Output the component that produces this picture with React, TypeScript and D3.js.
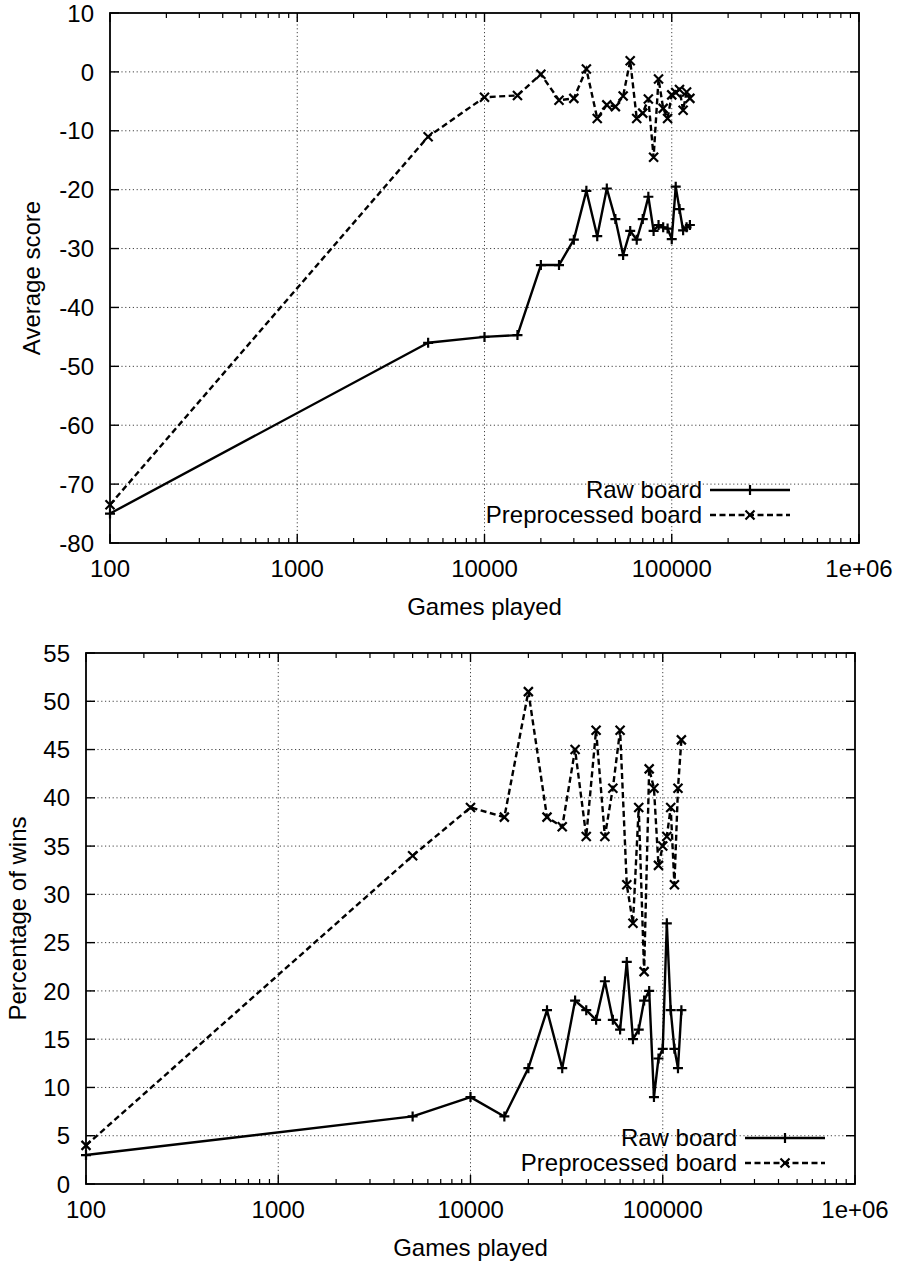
import * as d3 from 'd3'

// x values shared by every series
const gamesPlayed = [
  100, 5000, 10000, 15000, 20000, 25000, 30000, 35000, 40000, 45000, 50000, 55000, 60000,
  65000, 70000, 75000, 80000, 85000, 90000, 95000, 100000, 105000, 110000, 115000, 120000, 125000,
]

const scoreRaw = [
  -75, -46, -45, -44.7, -32.8, -32.8, -28.5, -20.2, -27.9, -19.8, -25, -31.1, -27,
  -28.5, -25, -21.2, -27, -26, -26.4, -26.6, -28.4, -19.5, -23.3, -26.9, -26.4, -26,
]
const scorePre = [
  -73.5, -11, -4.3, -4.0, -0.4, -4.8, -4.5, 0.5, -7.9, -5.6, -5.9, -4.1, 1.9,
  -7.9, -7, -4.6, -14.5, -1.2, -6.2, -7.9, -3.9, -3.5, -3, -6.5, -3.4, -4.5,
]

const winsRaw = [
  3, 7, 9, 7, 12, 18, 12, 19, 18, 17, 21, 17, 16,
  23, 15, 16, 19, 20, 9, 13, 14, 27, 18, 14, 12, 18,
]
const winsPre = [
  4, 34, 39, 38, 51, 38, 37, 45, 36, 47, 36, 41, 47,
  31, 27, 39, 22, 43, 41, 33, 35, 36, 39, 31, 41, 46,
]

const xTicks = [100, 1000, 10000, 100000, 1000000]
const xTickLabels = ['100', '1000', '10000', '100000', '1e+06']
const scoreTicks = [10, 0, -10, -20, -30, -40, -50, -60, -70, -80]
const winsTicks = [55, 50, 45, 40, 35, 30, 25, 20, 15, 10, 5, 0]
const seriesNames = ['Raw board', 'Preprocessed board']

const FONT = 'Liberation Sans, Arial, Helvetica, sans-serif'
const FS = 24

interface PanelProps {
  box: { left: number; right: number; top: number; bottom: number }
  yDomain: [number, number]
  yTicks: number[]
  raw: number[]
  pre: number[]
  ylabel: string
  ylabelX: number
  legendRight: number
  legendBase: number
}

function Panel({ box, yDomain, yTicks, raw, pre, ylabel, ylabelX, legendRight, legendBase }: PanelProps) {
  const x = d3.scaleLog().domain([100, 1000000]).range([box.left, box.right])
  const y = d3.scaleLinear().domain(yDomain).range([box.bottom, box.top])

  // minor log ticks 2..9 in each decade
  const minor: number[] = []
  for (let dec = 100; dec < 1000000; dec *= 10) {
    for (let m = 2; m <= 9; m++) minor.push(dec * m)
  }

  const line = d3
    .line<number>()
    .x((_, i) => x(gamesPlayed[i]))
    .y((d) => y(d))

  const plus = (cx: number, cy: number, k: string) => (
    <path key={k} d={`M${cx - 5},${cy}H${cx + 5}M${cx},${cy - 5}V${cy + 5}`} stroke="#000" strokeWidth={2.2} />
  )
  const cross = (cx: number, cy: number, k: string) => (
    <path
      key={k}
      d={`M${cx - 4.5},${cy - 4.5}L${cx + 4.5},${cy + 4.5}M${cx - 4.5},${cy + 4.5}L${cx + 4.5},${cy - 4.5}`}
      stroke="#000"
      strokeWidth={2.2}
    />
  )

  const sampleEnd = legendRight
  const sampleStart = legendRight - 80
  const textEnd = sampleStart - 8

  return (
    <g fontFamily={FONT} fontSize={FS} fill="#000">
      {/* grid */}
      {yTicks
        .filter((t) => t !== yDomain[0] && t !== yDomain[1])
        .map((t) => (
          <line key={'gy' + t} x1={box.left} x2={box.right} y1={y(t)} y2={y(t)} stroke="#444" strokeWidth={1} strokeDasharray="1.2,2.6" />
        ))}
      {xTicks.slice(1, -1).map((t) => (
        <line key={'gx' + t} x1={x(t)} x2={x(t)} y1={box.top} y2={box.bottom} stroke="#444" strokeWidth={1} strokeDasharray="1.2,2.6" />
      ))}

      {/* ticks */}
      {yTicks.map((t) => (
        <g key={'ty' + t}>
          <line x1={box.left} x2={box.left + 9} y1={y(t)} y2={y(t)} stroke="#000" strokeWidth={1.4} />
          <line x1={box.right} x2={box.right - 9} y1={y(t)} y2={y(t)} stroke="#000" strokeWidth={1.4} />
          <text x={box.left - 16} y={y(t)} dy="0.36em" textAnchor="end">
            {t}
          </text>
        </g>
      ))}
      {xTicks.map((t, i) => (
        <g key={'tx' + t}>
          <line x1={x(t)} x2={x(t)} y1={box.bottom} y2={box.bottom - 9} stroke="#000" strokeWidth={1.4} />
          <line x1={x(t)} x2={x(t)} y1={box.top} y2={box.top + 9} stroke="#000" strokeWidth={1.4} />
          <text x={x(t)} y={box.bottom + 34} textAnchor="middle">
            {xTickLabels[i]}
          </text>
        </g>
      ))}
      {minor.map((t) => (
        <g key={'mx' + t}>
          <line x1={x(t)} x2={x(t)} y1={box.bottom} y2={box.bottom - 5} stroke="#000" strokeWidth={1.2} />
          <line x1={x(t)} x2={x(t)} y1={box.top} y2={box.top + 5} stroke="#000" strokeWidth={1.2} />
        </g>
      ))}

      {/* series */}
      <path d={line(pre) || ''} fill="none" stroke="#000" strokeWidth={2.4} strokeDasharray="6,3.5" />
      <path d={line(raw) || ''} fill="none" stroke="#000" strokeWidth={2.4} strokeLinejoin="round" />
      {pre.map((v, i) => cross(x(gamesPlayed[i]), y(v), 'c' + i))}
      {raw.map((v, i) => plus(x(gamesPlayed[i]), y(v), 'p' + i))}

      {/* frame */}
      <rect x={box.left} y={box.top} width={box.right - box.left} height={box.bottom - box.top} fill="none" stroke="#000" strokeWidth={1.8} />

      {/* legend */}
      <text x={textEnd} y={legendBase} textAnchor="end">
        {seriesNames[0]}
      </text>
      <line x1={sampleStart} x2={sampleEnd} y1={legendBase - 8} y2={legendBase - 8} stroke="#000" strokeWidth={2.4} />
      {plus((sampleStart + sampleEnd) / 2, legendBase - 8, 'lp')}
      <text x={textEnd} y={legendBase + 25} textAnchor="end">
        {seriesNames[1]}
      </text>
      <line x1={sampleStart} x2={sampleEnd} y1={legendBase + 17} y2={legendBase + 17} stroke="#000" strokeWidth={2.4} strokeDasharray="6,3.5" />
      {cross((sampleStart + sampleEnd) / 2, legendBase + 17, 'lc')}

      {/* axis titles */}
      <text x={(box.left + box.right) / 2} y={box.bottom + 72} textAnchor="middle">
        Games played
      </text>
      <text
        transform={`translate(${ylabelX},${(box.top + box.bottom) / 2}) rotate(-90)`}
        textAnchor="middle"
        dy="0.36em"
      >
        {ylabel}
      </text>
    </g>
  )
}

export default function App() {
  return (
    <svg width={898} height={1264} style={{ position: 'absolute', left: 0, top: 0, background: '#fff' }}>
      <rect width={898} height={1264} fill="#fff" />
      <Panel
        box={{ left: 110, right: 859, top: 13, bottom: 543 }}
        yDomain={[-80, 10]}
        yTicks={scoreTicks}
        raw={scoreRaw}
        pre={scorePre}
        ylabel="Average score"
        ylabelX={31}
        legendRight={790}
        legendBase={498}
      />
      <Panel
        box={{ left: 86, right: 855, top: 653, bottom: 1184 }}
        yDomain={[0, 55]}
        yTicks={winsTicks}
        raw={winsRaw}
        pre={winsPre}
        ylabel="Percentage of wins"
        ylabelX={17}
        legendRight={825}
        legendBase={1146}
      />
    </svg>
  )
}
